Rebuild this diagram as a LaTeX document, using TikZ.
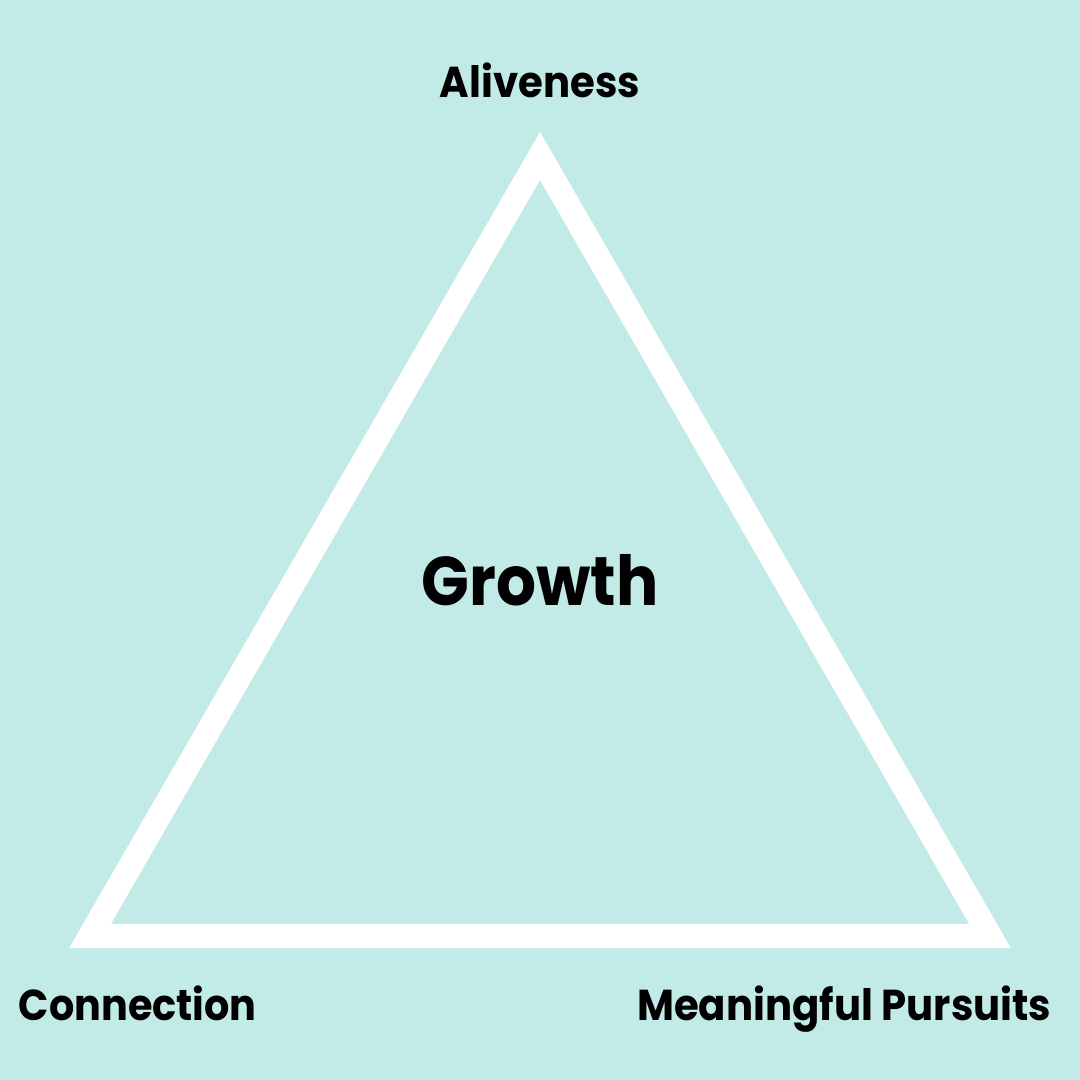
\documentclass[tikz,border=0pt]{standalone}
\usepackage{fontspec}
\usepackage{graphicx}
\setmainfont{Poppins}[BoldFont={* Bold}]
\definecolor{bgteal}{HTML}{C2EBE7}
\newcommand{\narrow}[2]{\scalebox{#1}[1]{#2}}
\begin{document}
\begin{tikzpicture}[x=0.01cm,y=-0.01cm]
\tikzset{
  lbl/.style={font=\fontsize{12.3pt}{14pt}\selectfont\bfseries, text=black, inner sep=0pt, anchor=base},
  big/.style={font=\fontsize{19.6pt}{24pt}\selectfont\bfseries, text=black, inner sep=0pt, anchor=base},
  tri/.style={draw=white, line width=0.24cm, line join=miter}
}
\fill[bgteal] (0,0) rectangle (1080,1080);
\useasboundingbox (0,0) rectangle (1080,1080);
\coordinate (top) at (540,156);
\coordinate (bl) at (90,936);
\coordinate (br) at (990,936);
\draw[tri] (top) -- (bl) -- (br) -- cycle;
\node[lbl] (alive) at (540,98) {\narrow{0.93}{Aliveness}};
\node[big] (growth) at (540,605) {\narrow{0.91}{Growth}};
\node[lbl, anchor=base west] (conn) at (18,1020) {\narrow{0.92}{Connection}};
\node[lbl, anchor=base east] (mean) at (1052,1020) {\narrow{0.93}{Meaningful Pursuits}};
\end{tikzpicture}
\end{document}
